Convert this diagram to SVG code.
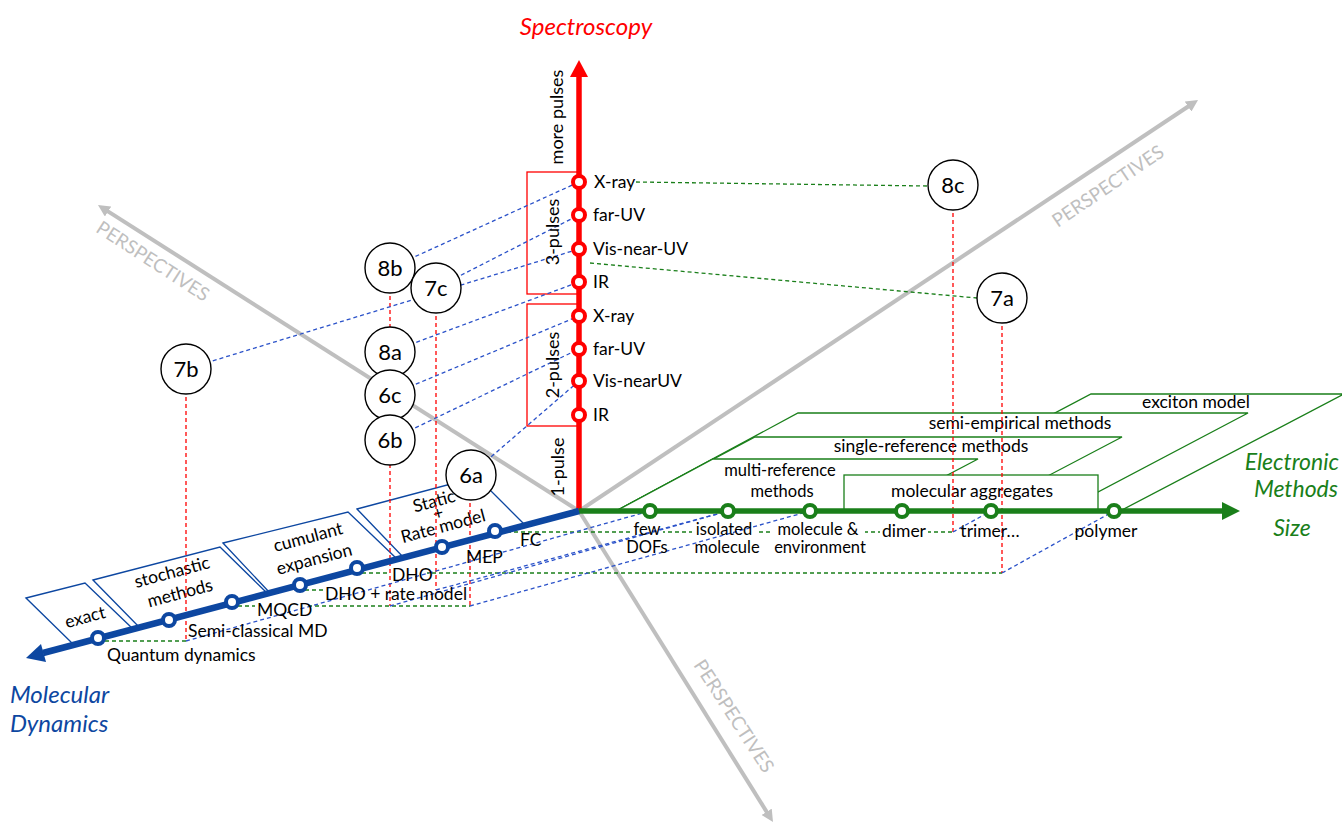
<svg xmlns="http://www.w3.org/2000/svg" width="1342" height="825" viewBox="0 0 1342 825">
<defs>
<style>
text{font-family:Lato,"Liberation Sans",sans-serif;font-size:17.5px;fill:#000}
.c circle{fill:#fff;stroke:#000;stroke-width:1.4}
.c text{font-size:22px;text-anchor:middle}
.gd{stroke:#1A7F1A;stroke-width:1.3;stroke-dasharray:4 3;fill:none}
.bd{stroke:#2B52C9;stroke-width:1.3;stroke-dasharray:4 3;fill:none}
.rd{stroke:#FF0000;stroke-width:1.3;stroke-dasharray:4 3;fill:none}
.gbox{fill:#fff;stroke:#1A7F1A;stroke-width:1.3}
.bbox{fill:none;stroke:#0D47A1;stroke-width:1.3}
.rbox{fill:none;stroke:#FF0000;stroke-width:1.3}
.gray{stroke:#BFBFBF;stroke-width:4;fill:none}
.persp{fill:#BFBFBF;font-size:19px;text-anchor:middle}
.rn{fill:#fff;stroke:#FF0000;stroke-width:4}
.gn{fill:#fff;stroke:#1A7F1A;stroke-width:4}
.bn{fill:#fff;stroke:#0D47A1;stroke-width:4}
.mid{text-anchor:middle}
.two{font-size:16.5px}
.bg{fill:#fff}
.ax-title{font-style:italic;font-size:24px}
.el{font-style:italic;font-size:23px;fill:#1A7F1A}
</style>
<marker id="gh" markerUnits="userSpaceOnUse" markerWidth="14" markerHeight="12" refX="2" refY="6" orient="auto">
<path d="M0,0 L12,6 L0,12 z" fill="#BFBFBF"/>
</marker>
</defs>
<rect width="1342" height="825" fill="#fff"/>

<g id="perspectives">
<line class="gray" x1="579" y1="511" x2="1189.7" y2="105.5" marker-end="url(#gh)"/>
<line class="gray" x1="579" y1="511" x2="106.4" y2="210.4" marker-end="url(#gh)"/>
<line class="gray" x1="579" y1="511" x2="767.7" y2="813.5" marker-end="url(#gh)"/>
<text class="persp" transform="translate(1108,186) rotate(-34)" dy="0.35em">PERSPECTIVES</text>
<text class="persp" transform="translate(153,261) rotate(33)" dy="0.35em">PERSPECTIVES</text>
<text class="persp" transform="translate(734,716) rotate(57)" dy="0.35em">PERSPECTIVES</text>
</g>

<g id="electronic-method-boxes">
<polygon class="gbox" points="1091,394 1344,394 1120,511 869,511"/>
<polygon class="gbox" points="798,413 1248,413 1062,511 616,511"/>
<polygon class="gbox" points="755,437 1122,437 981,511 616,511"/>
<polygon class="gbox" points="713,459 978,459 879,511 616,511"/>
<rect class="gbox" x="844" y="475" width="254" height="36"/>
<text class="mid" x="1196" y="408">exciton model</text>
<text class="mid" x="1020" y="429">semi-empirical methods</text>
<text class="mid" x="931" y="452">single-reference methods</text>
<text class="mid two" x="780" y="476">multi-reference</text>
<text class="mid two" x="782" y="497">methods</text>
<text class="mid" x="972" y="497">molecular aggregates</text>
</g>

<g id="dynamics-method-boxes">
<polygon class="bbox" points="26,598 85,583 133,629 74,645"/>
<polygon class="bbox" points="93,580 220,547 268,594 140,628"/>
<polygon class="bbox" points="223,543 348,512 397,559 270,593"/>
<polygon class="bbox" points="357,509 477,477 525,525 404,558"/>
<text class="mid" transform="translate(85,617) rotate(-15)" dy="0.35em">exact</text>
<text class="mid" transform="translate(172,572) rotate(-15)" dy="0.35em">stochastic</text>
<text class="mid" transform="translate(180,593) rotate(-15)" dy="0.35em">methods</text>
<text class="mid" transform="translate(308,537) rotate(-15)" dy="0.35em">cumulant</text>
<text class="mid" transform="translate(314,559) rotate(-15)" dy="0.35em">expansion</text>
<text class="mid" transform="translate(434,501) rotate(-15)" dy="0.35em">Static</text>
<text class="mid" transform="translate(438,513) rotate(-15)" dy="0.35em">+</text>
<text class="mid" transform="translate(443,526) rotate(-15)" dy="0.35em">Rate model</text>
</g>

<g id="pulse-brackets">
<rect class="rbox" x="527" y="172" width="52" height="122"/>
<rect class="rbox" x="527" y="304" width="52" height="122"/>
</g>

<g id="connectors">
<g id="green-dashed">
<line class="gd" x1="105" y1="641" x2="186" y2="641"/>
<line class="gd" x1="238" y1="606" x2="470" y2="606"/>
<line class="gd" x1="305" y1="590" x2="436" y2="590"/>
<line class="gd" x1="362" y1="573" x2="1002" y2="573"/>
<line class="gd" x1="500" y1="532" x2="953" y2="532"/>
<line class="gd" x1="636" y1="182" x2="928" y2="186"/>
<line class="gd" x1="590" y1="263" x2="977" y2="298"/>
</g>
<g id="label-backgrounds">
<rect class="bg" x="630" y="524" width="33" height="14"/>
<rect class="bg" x="692" y="524" width="64" height="14"/>
<rect class="bg" x="772" y="524" width="93" height="14"/>
<rect class="bg" x="880" y="524" width="48" height="14"/>
<rect class="bg" x="390" y="567" width="37" height="15"/>
<rect class="bg" x="255" y="602" width="52" height="15"/>
<rect class="bg" x="323" y="587" width="140" height="15"/>
</g>
<g id="red-dashed">
<line class="rd" x1="186" y1="369" x2="186" y2="641"/>
<line class="rd" x1="390" y1="268" x2="390" y2="606"/>
<line class="rd" x1="436" y1="288" x2="436" y2="590"/>
<line class="rd" x1="470" y1="475" x2="470" y2="606"/>
<line class="rd" x1="953" y1="185" x2="953" y2="532"/>
<line class="rd" x1="1002" y1="298" x2="1002" y2="573"/>
</g>
<g id="blue-dashed">
<line class="bd" x1="186" y1="641" x2="650" y2="511"/>
<line class="bd" x1="390" y1="606" x2="728" y2="511"/>
<line class="bd" x1="436" y1="590" x2="728" y2="511"/>
<line class="bd" x1="470" y1="606" x2="810" y2="511"/>
<line class="bd" x1="953" y1="532" x2="991" y2="511"/>
<line class="bd" x1="1002" y1="573" x2="1114" y2="511"/>
<line class="bd" x1="390" y1="268" x2="579" y2="182"/>
<line class="bd" x1="436" y1="288" x2="579" y2="215"/>
<line class="bd" x1="186" y1="369" x2="579" y2="249"/>
<line class="bd" x1="390" y1="352" x2="579" y2="282"/>
<line class="bd" x1="390" y1="395" x2="579" y2="316"/>
<line class="bd" x1="390" y1="440" x2="579" y2="349"/>
<line class="bd" x1="470" y1="475" x2="579" y2="381"/>
</g>
</g>

<g id="axis-spectroscopy">
<line x1="579" y1="511" x2="579" y2="76" stroke="#FF0000" stroke-width="5.5"/>
<polygon points="579,60 588,77 570,77" fill="#FF0000"/>
<text class="mid ax-title" x="586" y="35" style="fill:#FF0000">Spectroscopy</text>
<text class="mid" transform="translate(557,117) rotate(-90)" dy="0.35em" style="font-size:18px">more pulses</text>
<text class="mid" transform="translate(553,232) rotate(-90)" dy="0.35em" style="font-size:18px">3-pulses</text>
<text class="mid" transform="translate(553,365) rotate(-90)" dy="0.35em" style="font-size:18px">2-pulses</text>
<text class="mid" transform="translate(558,467) rotate(-90)" dy="0.35em" style="font-size:18px">1-pulse</text>
</g>

<g id="axis-electronic">
<line x1="579" y1="511" x2="1223" y2="511" stroke="#1A7F1A" stroke-width="5.5"/>
<polygon points="1240,511 1222,502 1222,520" fill="#1A7F1A"/>
<text class="el" x="1339" y="470" text-anchor="end">Electronic</text>
<text class="el" x="1338" y="497" text-anchor="end">Methods</text>
<text class="el" x="1292" y="536" text-anchor="middle">Size</text>
</g>

<g id="axis-dynamics">
<line x1="579" y1="511" x2="43" y2="653" stroke="#0D47A1" stroke-width="6.5"/>
<polygon points="26,658 46,662 41,644" fill="#0D47A1"/>
<text class="ax-title" x="10" y="703" style="fill:#0D47A1">Molecular</text>
<text class="ax-title" x="10" y="732" style="fill:#0D47A1">Dynamics</text>
</g>

<g id="spectroscopy-nodes">
<circle class="rn" cx="579" cy="182" r="6"/>
<circle class="rn" cx="579" cy="215" r="6"/>
<circle class="rn" cx="579" cy="249" r="6"/>
<circle class="rn" cx="579" cy="282" r="6"/>
<circle class="rn" cx="579" cy="316" r="6"/>
<circle class="rn" cx="579" cy="349" r="6"/>
<circle class="rn" cx="579" cy="381" r="6"/>
<circle class="rn" cx="579" cy="415" r="6"/>
<text x="594" y="188">X-ray</text>
<text x="593" y="221">far-UV</text>
<text x="593" y="255">Vis-near-UV</text>
<text x="593" y="288">IR</text>
<text x="593" y="322">X-ray</text>
<text x="593" y="355">far-UV</text>
<text x="593" y="387">Vis-nearUV</text>
<text x="593" y="421">IR</text>
</g>

<g id="electronic-nodes">
<circle class="gn" cx="650" cy="511" r="6"/>
<circle class="gn" cx="728" cy="511" r="6"/>
<circle class="gn" cx="810" cy="511" r="6"/>
<circle class="gn" cx="902" cy="511" r="6"/>
<circle class="gn" cx="991" cy="511" r="6"/>
<circle class="gn" cx="1114" cy="511" r="6"/>
<text class="mid two" x="647" y="535">few</text>
<text class="mid two" x="647" y="553">DOFs</text>
<text class="mid two" x="724" y="535">isolated</text>
<text class="mid two" x="727" y="553">molecule</text>
<text class="mid two" x="818" y="535">molecule &amp;</text>
<text class="mid two" x="820" y="553">environment</text>
<text class="mid" x="904" y="537">dimer</text>
<text class="mid" x="990" y="537">trimer…</text>
<text class="mid" x="1106" y="537">polymer</text>
</g>

<g id="dynamics-nodes">
<circle class="bn" cx="98" cy="638" r="6"/>
<circle class="bn" cx="169" cy="620" r="6"/>
<circle class="bn" cx="232" cy="602" r="6"/>
<circle class="bn" cx="300" cy="585" r="6"/>
<circle class="bn" cx="357" cy="568" r="6"/>
<circle class="bn" cx="442" cy="547" r="6"/>
<circle class="bn" cx="495" cy="531" r="6"/>
<text x="107" y="661">Quantum dynamics</text>
<text x="188" y="637">Semi-classical MD</text>
<text x="257" y="616">MQCD</text>
<text x="325" y="600">DHO + rate model</text>
<text x="392" y="581">DHO</text>
<text x="466" y="563">MEP</text>
<text x="520" y="546">FC</text>
</g>

<g id="node-8b" class="c"><circle cx="390" cy="268" r="25"/><text x="390" y="276">8b</text></g>
<g id="node-7c" class="c"><circle cx="436" cy="288" r="25"/><text x="436" y="296">7c</text></g>
<g id="node-8a" class="c"><circle cx="390" cy="352" r="25"/><text x="390" y="360">8a</text></g>
<g id="node-6c" class="c"><circle cx="390" cy="395" r="25"/><text x="390" y="403">6c</text></g>
<g id="node-6b" class="c"><circle cx="390" cy="440" r="25"/><text x="390" y="448">6b</text></g>
<g id="node-6a" class="c"><circle cx="471" cy="475" r="25"/><text x="471" y="483">6a</text></g>
<g id="node-7b" class="c"><circle cx="186" cy="369" r="25"/><text x="186" y="377">7b</text></g>
<g id="node-8c" class="c"><circle cx="953" cy="185" r="25"/><text x="953" y="193">8c</text></g>
<g id="node-7a" class="c"><circle cx="1002" cy="298" r="25"/><text x="1002" y="306">7a</text></g>
</svg>
